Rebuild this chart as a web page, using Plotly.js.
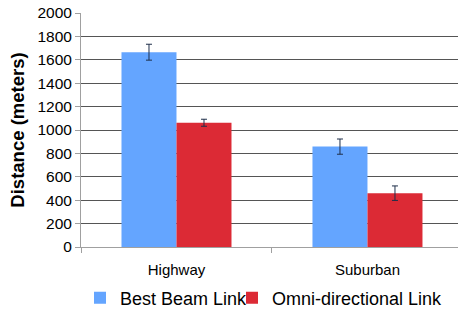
<!DOCTYPE html>
<html>
<head>
<meta charset="utf-8">
<script src="https://cdn.plot.ly/plotly-3.0.1.min.js"></script>
<style>html,body{margin:0;padding:0;background:#fff}#chart{width:458px;height:313px}</style>
</head>
<body>
<div id="chart"></div>
<script>
const categories = ["Highway", "Suburban"];
const seriesNames = ["Best Beam Link", "Omni-directional Link"];
const bestBeam = [1665, 858];
const bestBeamErr = [68, 65];
const omni = [1062, 460];
const omniErr = [30, 62];
const yTicks = [0, 200, 400, 600, 800, 1000, 1200, 1400, 1600, 1800, 2000];

const font = "Liberation Sans, Arial, sans-serif";
const traces = [
  {type: "bar", name: seriesNames[0], x: categories, y: bestBeam, legend: "legend",
   marker: {color: "#64a5ff", line: {width: 0}},
   error_y: {type: "data", array: bestBeamErr, visible: true, color: "#1f2f4a", thickness: 1, width: 3}},
  {type: "bar", name: seriesNames[1], x: categories, y: omni, legend: "legend2",
   marker: {color: "#dc2a35", line: {width: 0}},
   error_y: {type: "data", array: omniErr, visible: true, color: "#1f2f4a", thickness: 1, width: 3}}
];
const legendBase = {orientation: "h", xref: "container", xanchor: "left",
  yref: "container", y: 0.048, yanchor: "middle", bgcolor: "rgba(0,0,0,0)",
  font: {size: 18, family: font, color: "#000"}, itemwidth: 30};
const layout = {
  width: 458, height: 313,
  margin: {l: 81, r: 0, t: 13, b: 66, autoexpand: false},
  paper_bgcolor: "#fff", plot_bgcolor: "#fff",
  barmode: "group", bargap: 0.424, bargroupgap: 0,
  font: {family: font, color: "#000"},
  showlegend: true,
  legend: Object.assign({}, legendBase, {x: 80 / 458}),
  legend2: Object.assign({}, legendBase, {x: 232 / 458}),
  xaxis: {range: [-0.5, 1.474], showline: true, linecolor: "#a0a0a0", linewidth: 1,
          ticks: "outside", tickson: "boundaries", ticklen: 5, tickcolor: "#a0a0a0",
          ticklabelstandoff: 9,
          tickfont: {size: 15, family: font}, showgrid: false, fixedrange: true},
  yaxis: {range: [0, 2000], tickvals: yTicks, ticktext: yTicks.map(String),
          showline: true, linecolor: "#a0a0a0", linewidth: 1,
          ticks: "outside", ticklen: 5, tickcolor: "#a0a0a0",
          showgrid: true, gridcolor: "#555", gridwidth: 1, zeroline: false,
          tickfont: {size: 15.5, family: font},
          title: {text: "<b>Distance (meters)</b>", font: {size: 18.5, family: font}, standoff: 7}}
};
Plotly.newPlot("chart", traces, layout, {staticPlot: true, displayModeBar: false});
</script>
</body>
</html>
